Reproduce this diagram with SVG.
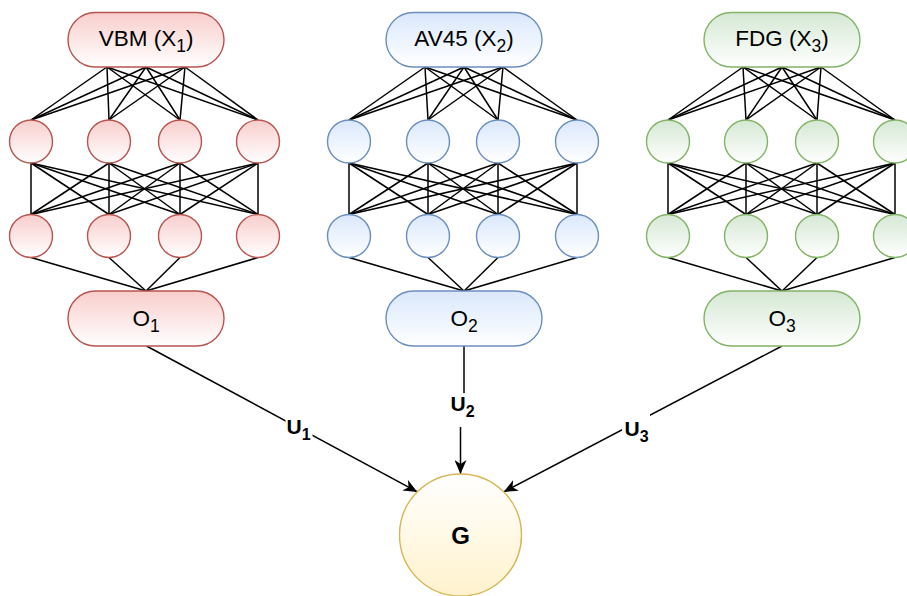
<svg xmlns="http://www.w3.org/2000/svg" width="907" height="596" viewBox="0 0 907 596">
<defs>
<linearGradient id="gR" x1="0" y1="0" x2="0" y2="1"><stop offset="0" stop-color="#f8cecc"/><stop offset="1" stop-color="#ffffff"/></linearGradient>
<linearGradient id="gB" x1="0" y1="0" x2="0" y2="1"><stop offset="0" stop-color="#dae8fc"/><stop offset="1" stop-color="#ffffff"/></linearGradient>
<linearGradient id="gG" x1="0" y1="0" x2="0" y2="1"><stop offset="0" stop-color="#d5e8d4"/><stop offset="1" stop-color="#ffffff"/></linearGradient>
<linearGradient id="gY" x1="0" y1="0" x2="0" y2="1"><stop offset="0" stop-color="#ffffff"/><stop offset="1" stop-color="#fff2cc"/></linearGradient>
<marker id="arr" markerUnits="userSpaceOnUse" markerWidth="14" markerHeight="12" viewBox="0 0 14 12" refX="14" refY="6" orient="auto"><path d="M0,0 L14,6 L0,12 L4,6 Z" fill="#000"/></marker>
<style>
.r{fill:url(#gR);stroke:#b85450;stroke-width:1.4}
.b{fill:url(#gB);stroke:#6c8ebf;stroke-width:1.4}
.g{fill:url(#gG);stroke:#82b366;stroke-width:1.4}
.y{fill:url(#gY);stroke:#d6b656;stroke-width:1.4}
.t{font-family:"Liberation Sans",Arial,sans-serif;font-size:22.5px;fill:#000;text-anchor:middle}
.lb{font-family:"Liberation Sans",Arial,sans-serif;font-size:21px;font-weight:bold;fill:#000;text-anchor:middle}
.big{font-size:24px}
.e line,.e path{stroke:#000;stroke-width:1.5;fill:none}
</style>
</defs>
<rect width="907" height="596" fill="#ffffff"/>
<g id="connectors" class="e">
<!-- block 1 -->
<line x1="107" y1="67" x2="31" y2="120"/><line x1="107" y1="67" x2="109" y2="120"/><line x1="107" y1="67" x2="180" y2="120"/><line x1="107" y1="67" x2="258" y2="120"/>
<line x1="146" y1="67" x2="31" y2="120"/><line x1="146" y1="67" x2="109" y2="120"/><line x1="146" y1="67" x2="180" y2="120"/><line x1="146" y1="67" x2="258" y2="120"/>
<line x1="185" y1="67" x2="31" y2="120"/><line x1="185" y1="67" x2="109" y2="120"/><line x1="185" y1="67" x2="180" y2="120"/><line x1="185" y1="67" x2="258" y2="120"/>
<line x1="31" y1="163" x2="31" y2="214.5"/><line x1="31" y1="163" x2="109" y2="214.5"/><line x1="31" y1="163" x2="180" y2="214.5"/><line x1="31" y1="163" x2="258" y2="214.5"/>
<line x1="109" y1="163" x2="31" y2="214.5"/><line x1="109" y1="163" x2="109" y2="214.5"/><line x1="109" y1="163" x2="180" y2="214.5"/><line x1="109" y1="163" x2="258" y2="214.5"/>
<line x1="180" y1="163" x2="31" y2="214.5"/><line x1="180" y1="163" x2="109" y2="214.5"/><line x1="180" y1="163" x2="180" y2="214.5"/><line x1="180" y1="163" x2="258" y2="214.5"/>
<line x1="258" y1="163" x2="31" y2="214.5"/><line x1="258" y1="163" x2="109" y2="214.5"/><line x1="258" y1="163" x2="180" y2="214.5"/><line x1="258" y1="163" x2="258" y2="214.5"/>
<line x1="31" y1="257.5" x2="146" y2="291"/><line x1="109" y1="257.5" x2="146" y2="291"/><line x1="180" y1="257.5" x2="146" y2="291"/><line x1="258" y1="257.5" x2="146" y2="291"/>
<!-- block 2 -->
<line x1="425" y1="67" x2="349" y2="120"/><line x1="425" y1="67" x2="428" y2="120"/><line x1="425" y1="67" x2="498" y2="120"/><line x1="425" y1="67" x2="577" y2="120"/>
<line x1="464" y1="67" x2="349" y2="120"/><line x1="464" y1="67" x2="428" y2="120"/><line x1="464" y1="67" x2="498" y2="120"/><line x1="464" y1="67" x2="577" y2="120"/>
<line x1="503" y1="67" x2="349" y2="120"/><line x1="503" y1="67" x2="428" y2="120"/><line x1="503" y1="67" x2="498" y2="120"/><line x1="503" y1="67" x2="577" y2="120"/>
<line x1="349" y1="163" x2="349" y2="214.5"/><line x1="349" y1="163" x2="428" y2="214.5"/><line x1="349" y1="163" x2="498" y2="214.5"/><line x1="349" y1="163" x2="577" y2="214.5"/>
<line x1="428" y1="163" x2="349" y2="214.5"/><line x1="428" y1="163" x2="428" y2="214.5"/><line x1="428" y1="163" x2="498" y2="214.5"/><line x1="428" y1="163" x2="577" y2="214.5"/>
<line x1="498" y1="163" x2="349" y2="214.5"/><line x1="498" y1="163" x2="428" y2="214.5"/><line x1="498" y1="163" x2="498" y2="214.5"/><line x1="498" y1="163" x2="577" y2="214.5"/>
<line x1="577" y1="163" x2="349" y2="214.5"/><line x1="577" y1="163" x2="428" y2="214.5"/><line x1="577" y1="163" x2="498" y2="214.5"/><line x1="577" y1="163" x2="577" y2="214.5"/>
<line x1="349" y1="257.5" x2="464" y2="291"/><line x1="428" y1="257.5" x2="464" y2="291"/><line x1="498" y1="257.5" x2="464" y2="291"/><line x1="577" y1="257.5" x2="464" y2="291"/>
<!-- block 3 -->
<line x1="743" y1="67" x2="668" y2="120"/><line x1="743" y1="67" x2="746" y2="120"/><line x1="743" y1="67" x2="817" y2="120"/><line x1="743" y1="67" x2="895" y2="120"/>
<line x1="782" y1="67" x2="668" y2="120"/><line x1="782" y1="67" x2="746" y2="120"/><line x1="782" y1="67" x2="817" y2="120"/><line x1="782" y1="67" x2="895" y2="120"/>
<line x1="821" y1="67" x2="668" y2="120"/><line x1="821" y1="67" x2="746" y2="120"/><line x1="821" y1="67" x2="817" y2="120"/><line x1="821" y1="67" x2="895" y2="120"/>
<line x1="668" y1="163" x2="668" y2="214.5"/><line x1="668" y1="163" x2="746" y2="214.5"/><line x1="668" y1="163" x2="817" y2="214.5"/><line x1="668" y1="163" x2="895" y2="214.5"/>
<line x1="746" y1="163" x2="668" y2="214.5"/><line x1="746" y1="163" x2="746" y2="214.5"/><line x1="746" y1="163" x2="817" y2="214.5"/><line x1="746" y1="163" x2="895" y2="214.5"/>
<line x1="817" y1="163" x2="668" y2="214.5"/><line x1="817" y1="163" x2="746" y2="214.5"/><line x1="817" y1="163" x2="817" y2="214.5"/><line x1="817" y1="163" x2="895" y2="214.5"/>
<line x1="895" y1="163" x2="668" y2="214.5"/><line x1="895" y1="163" x2="746" y2="214.5"/><line x1="895" y1="163" x2="817" y2="214.5"/><line x1="895" y1="163" x2="895" y2="214.5"/>
<line x1="668" y1="257.5" x2="782" y2="291"/><line x1="746" y1="257.5" x2="782" y2="291"/><line x1="817" y1="257.5" x2="782" y2="291"/><line x1="895" y1="257.5" x2="782" y2="291"/>
<!-- output edges -->
<g id="edge-u1">
<line x1="146.5" y1="346" x2="417.4" y2="491.9" marker-end="url(#arr)"/>
<rect x="285.5" y="417" width="27" height="25" fill="#ffffff" stroke="none"/>
<text class="lb" x="298.5" y="434">U<tspan font-size="16" dy="6">1</tspan></text>
</g>
<g id="edge-u2">
<path d="M464 346 L464 405 L460.5 405 L460.5 474" marker-end="url(#arr)"/>
<rect x="448" y="393" width="30" height="34" fill="#ffffff" stroke="none"/>
<text class="lb" x="462.5" y="411">U<tspan font-size="16" dy="6">2</tspan></text>
</g>
<g id="edge-u3">
<line x1="782" y1="346" x2="503.6" y2="491.9" marker-end="url(#arr)"/>
<rect x="622" y="413" width="28" height="29" fill="#ffffff" stroke="none"/>
<text class="lb" x="636.5" y="435.5">U<tspan font-size="16" dy="6">3</tspan></text>
</g>
</g>
<!-- input pills -->
<g id="vbm"><rect class="r" x="68" y="12.5" width="156" height="54.5" rx="27.25"/><text class="t" x="146" y="46">VBM (X<tspan font-size="17.5" dy="6">1</tspan><tspan dy="-6">)</tspan></text></g>
<g id="av45"><rect class="b" x="386" y="12.5" width="156" height="54.5" rx="27.25"/><text class="t" x="464" y="46">AV45 (X<tspan font-size="17.5" dy="6">2</tspan><tspan dy="-6">)</tspan></text></g>
<g id="fdg"><rect class="g" x="704" y="12.5" width="156" height="54.5" rx="27.25"/><text class="t" x="782" y="46">FDG (X<tspan font-size="17.5" dy="6">3</tspan><tspan dy="-6">)</tspan></text></g>
<!-- hidden layers block 1 -->
<g id="r1n1"><circle class="r" cx="31" cy="141.5" r="21.5"/></g>
<g id="r1n2"><circle class="r" cx="109" cy="141.5" r="21.5"/></g>
<g id="r1n3"><circle class="r" cx="180" cy="141.5" r="21.5"/></g>
<g id="r1n4"><circle class="r" cx="258" cy="141.5" r="21.5"/></g>
<g id="r2n1"><circle class="r" cx="31" cy="236" r="21.5"/></g>
<g id="r2n2"><circle class="r" cx="109" cy="236" r="21.5"/></g>
<g id="r2n3"><circle class="r" cx="180" cy="236" r="21.5"/></g>
<g id="r2n4"><circle class="r" cx="258" cy="236" r="21.5"/></g>
<!-- block 2 -->
<g id="b1n1"><circle class="b" cx="349" cy="141.5" r="21.5"/></g>
<g id="b1n2"><circle class="b" cx="428" cy="141.5" r="21.5"/></g>
<g id="b1n3"><circle class="b" cx="498" cy="141.5" r="21.5"/></g>
<g id="b1n4"><circle class="b" cx="577" cy="141.5" r="21.5"/></g>
<g id="b2n1"><circle class="b" cx="349" cy="236" r="21.5"/></g>
<g id="b2n2"><circle class="b" cx="428" cy="236" r="21.5"/></g>
<g id="b2n3"><circle class="b" cx="498" cy="236" r="21.5"/></g>
<g id="b2n4"><circle class="b" cx="577" cy="236" r="21.5"/></g>
<!-- block 3 -->
<g id="g1n1"><circle class="g" cx="668" cy="141.5" r="21.5"/></g>
<g id="g1n2"><circle class="g" cx="746" cy="141.5" r="21.5"/></g>
<g id="g1n3"><circle class="g" cx="817" cy="141.5" r="21.5"/></g>
<g id="g1n4"><circle class="g" cx="895" cy="141.5" r="21.5"/></g>
<g id="g2n1"><circle class="g" cx="668" cy="236" r="21.5"/></g>
<g id="g2n2"><circle class="g" cx="746" cy="236" r="21.5"/></g>
<g id="g2n3"><circle class="g" cx="817" cy="236" r="21.5"/></g>
<g id="g2n4"><circle class="g" cx="895" cy="236" r="21.5"/></g>
<!-- output pills -->
<g id="o1"><rect class="r" x="68" y="291" width="156" height="55" rx="27.5"/><text class="t" x="146" y="325.5">O<tspan font-size="17.5" dy="6">1</tspan></text></g>
<g id="o2"><rect class="b" x="386" y="291" width="156" height="55" rx="27.5"/><text class="t" x="464" y="325.5">O<tspan font-size="17.5" dy="6">2</tspan></text></g>
<g id="o3"><rect class="g" x="704" y="291" width="156" height="55" rx="27.5"/><text class="t" x="782" y="325.5">O<tspan font-size="17.5" dy="6">3</tspan></text></g>
<!-- G -->
<g id="g-node"><circle class="y" cx="460.5" cy="535" r="61"/><text class="lb big" x="460.5" y="543.5">G</text></g>
</svg>
